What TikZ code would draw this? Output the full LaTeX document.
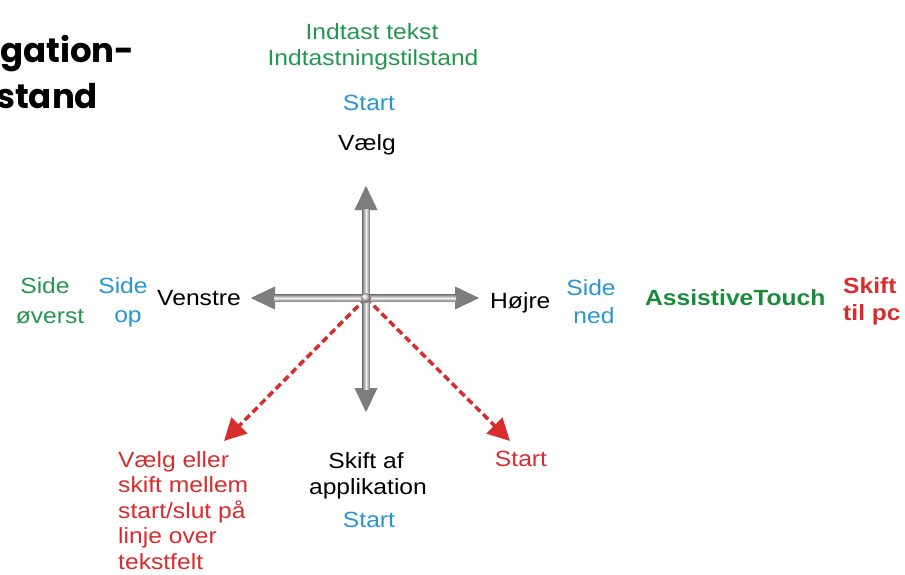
\documentclass[tikz,border=0pt]{standalone}
\usepackage{fontspec}
\setmainfont{Liberation Sans}[FakeStretch=1.12]
\newfontfamily\titlefont{Poppins}
\usetikzlibrary{arrows.meta}
\definecolor{tgreen}{RGB}{35,150,80}
\definecolor{tgreenb}{RGB}{25,140,60}
\definecolor{tblue}{RGB}{40,150,210}
\definecolor{tred}{RGB}{215,45,45}
\definecolor{agray}{RGB}{125,125,125}
\begin{document}
\begin{tikzpicture}[x=1pt,y=-1pt,
  lbl/.style={inner sep=0pt, anchor=base, font=\fontsize{22}{26}\selectfont},
  lblw/.style={lbl, anchor=base west},
  lble/.style={lbl, anchor=base east},
  bold/.style={font=\fontsize{22}{26}\selectfont\bfseries},
  title/.style={inner sep=0pt, anchor=base west, font=\titlefont\fontsize{34}{40}\selectfont\bfseries},
  shaft/.style={draw=agray, line width=7pt, {Triangle[width=21pt,length=25pt]}-{Triangle[width=21pt,length=25pt]}},
  reddash/.style={draw=tred, line width=3.5pt, dash pattern=on 7pt off 4pt, -{Triangle[width=22pt,length=22pt]}}
]
\useasboundingbox (0,0) rectangle (905,574);
% key points
\coordinate (c) at (366,298);
\coordinate (up) at (366,185);
\coordinate (dn) at (366,413);
\coordinate (lf) at (250,298);
\coordinate (rt) at (480,298);
\coordinate (dl) at (224,441);
\coordinate (dr) at (510,441);
% red dashed arrows
\draw[reddash] (c) -- (dl);
\draw[reddash] (c) -- (dr);
% gray cross
\draw[shaft] (dn) -- (up);
\draw[shaft] (lf) -- (rt);
\shade[left color=agray, right color=agray, middle color=gray!12] (362.5,209) rectangle (369.5,389);
\shade[top color=agray, bottom color=agray, middle color=gray!12] (274,294.5) rectangle (456,301.5);
\shade[ball color=gray!35] (c) circle (5pt);
% title
\node[title] (t1) at (0,62) {gation-};
\node[title] (t2) at (-4,108) {stand};
% top
\node[lbl, text=tgreen] (in1) at (372,39) {Indtast tekst};
\node[lbl, text=tgreen] (in2) at (373,65) {Indtastningstilstand};
\node[lbl, text=tblue] (st1) at (369,110) {Start};
\node[lbl] (vg) at (367,150) {Vælg};
% left
\node[lbl, text=tgreen] (so1) at (45,293) {Side};
\node[lbl, text=tgreen] (so2) at (50,323) {øverst};
\node[lbl, text=tblue] (sp1) at (123,293) {Side};
\node[lbl, text=tblue] (sp2) at (128,322) {op};
\node[lble] (ve) at (241,305) {Venstre};
% right
\node[lblw] (hj) at (490,308) {Højre};
\node[lbl, text=tblue] (sn1) at (591,295) {Side};
\node[lbl, text=tblue] (sn2) at (594,323) {ned};
\node[lblw, bold, text=tgreenb] (at) at (645,305) {AssistiveTouch};
\node[lblw, bold, text=tred] (pc1) at (843,293) {Skift};
\node[lblw, bold, text=tred] (pc2) at (843,320) {til pc};
% bottom left
\node[lblw, text=tred] (r1) at (118,467) {Vælg eller};
\node[lblw, text=tred] (r2) at (118,492.5) {skift mellem};
\node[lblw, text=tred] (r3) at (118,518) {start/slut på};
\node[lblw, text=tred] (r4) at (118,543.5) {linje over};
\node[lblw, text=tred] (r5) at (118,569) {tekstfelt};
% bottom center
\node[lbl] (sa1) at (366,468) {Skift af};
\node[lbl] (sa2) at (368,494) {applikation};
\node[lbl, text=tblue] (st2) at (369,527) {Start};
% bottom right
\node[lbl, text=tred] (st3) at (521,466) {Start};
\end{tikzpicture}
\end{document}
